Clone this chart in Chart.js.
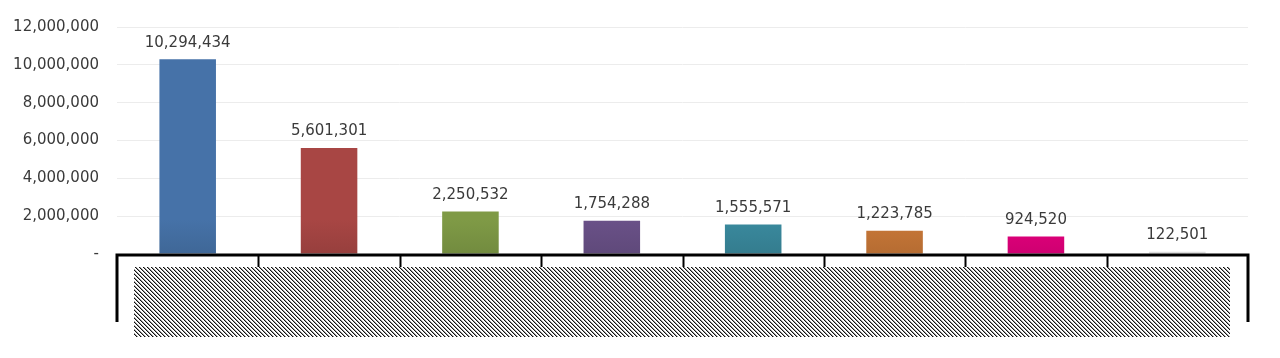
<!DOCTYPE html>
<html>
<head>
<meta charset="utf-8">
<script src="https://cdn.jsdelivr.net/npm/chart.js@4.4.1/dist/chart.umd.min.js"></script>
<style>
  html, body { margin: 0; padding: 0; background: #fff; }
  #wrap { width: 1280px; height: 358px; }
</style>
</head>
<body>
<div id="wrap"><canvas id="salesChart" width="1280" height="358"></canvas></div>
<script>
// Chart data (category names are hidden in the original, shown as a hatched block)
const categories = ["", "", "", "", "", "", "", ""];
const values = [10294434, 5601301, 2250532, 1754288, 1555571, 1223785, 924520, 122501];
const barColors = ["#4672a8", "#a84644", "#7f9a46", "#6a5188", "#3a8a9e", "#c97838", "#e5007d", "#f4f4f4"];
const yTicks = [0, 2000000, 4000000, 6000000, 8000000, 10000000, 12000000];

const FONT = "'DejaVu Sans', sans-serif";
const fmt = (v) => (v === 0 ? "-" : v.toLocaleString("en-US"));

// darker toward the bottom, like the original's shading
function shade(hex, f) {
  const n = parseInt(hex.slice(1), 16);
  const r = Math.round(((n >> 16) & 255) * f);
  const g = Math.round(((n >> 8) & 255) * f);
  const b = Math.round((n & 255) * f);
  return `rgb(${r},${g},${b})`;
}

// Value labels above bars
const valueLabels = {
  id: "valueLabels",
  afterDatasetsDraw(chart) {
    const { ctx } = chart;
    const meta = chart.getDatasetMeta(0);
    ctx.save();
    ctx.font = `15px ${FONT}`;
    ctx.fillStyle = "#3a3a3a";
    ctx.textAlign = "center";
    ctx.textBaseline = "bottom";
    meta.data.forEach((bar, i) => {
      ctx.fillText(fmt(values[i]), bar.x, bar.y - 9);
    });
    ctx.restore();
  },
};

// Category axis: thick base line, boundary ticks and the hatched label block
const categoryAxis = {
  id: "categoryAxis",
  afterDraw(chart) {
    const { ctx, chartArea } = chart;
    const x = chart.scales.x;
    const n = categories.length;
    const step = (x.right - x.left) / n;
    const base = chartArea.bottom + 1;

    // hatch pattern
    const tile = document.createElement("canvas");
    tile.width = 4;
    tile.height = 4;
    const tc = tile.getContext("2d");
    tc.fillStyle = "#fff";
    tc.fillRect(0, 0, 4, 4);
    for (let k = 0; k < 4; k++) {
      tc.fillStyle = "#111";
      tc.fillRect(k, k, 1, 1);
      tc.fillStyle = "#9a9a9a";
      tc.fillRect((k + 1) % 4, k, 1, 1);
    }
    ctx.save();
    ctx.fillStyle = ctx.createPattern(tile, "repeat");
    ctx.fillRect(x.left + 17, base + 12, (x.right - x.left) - 35, 70);

    ctx.strokeStyle = "#000";
    ctx.lineWidth = 2;
    for (let i = 1; i < n; i++) {
      const px = Math.round(x.left + i * step) + 0.5;
      ctx.beginPath();
      ctx.moveTo(px, base);
      ctx.lineTo(px, base + 12);
      ctx.stroke();
    }
    ctx.lineWidth = 3;
    ctx.beginPath();
    ctx.moveTo(x.left, base + 67);
    ctx.lineTo(x.left, base);
    ctx.lineTo(x.right, base);
    ctx.lineTo(x.right, base + 67);
    ctx.stroke();
    ctx.restore();
  },
};

const ctx = document.getElementById("salesChart").getContext("2d");
const chart = new Chart(ctx, {
  type: "bar",
  data: {
    labels: categories,
    datasets: [
      {
        data: values,
        backgroundColor: (c) => {
          const area = c.chart.chartArea;
          const col = barColors[c.dataIndex];
          if (!area) return col;
          const g = c.chart.ctx.createLinearGradient(0, area.top, 0, area.bottom);
          g.addColorStop(0, col);
          g.addColorStop(0.85, col);
          g.addColorStop(1, shade(col, 0.9));
          return g;
        },
        barPercentage: 0.4,
        categoryPercentage: 1,
      },
    ],
  },
  options: {
    responsive: false,
    animation: false,
    layout: { padding: { top: 26, right: 32, bottom: 0, left: 0 } },
    plugins: {
      legend: { display: false },
      tooltip: { enabled: false },
    },
    scales: {
      x: {
        grid: { display: false },
        border: { display: false },
        ticks: { display: false },
        afterFit: (scale) => { scale.height = 104; },
      },
      y: {
        min: 0,
        max: yTicks[yTicks.length - 1],
        afterBuildTicks: (scale) => { scale.ticks = yTicks.map((v) => ({ value: v })); },
        grid: { color: "#ececec", lineWidth: 1, drawTicks: false },
        border: { display: false },
        ticks: {
          padding: 18,
          color: "#3a3a3a",
          font: { family: FONT, size: 15 },
          callback: (v) => fmt(v),
        },
        afterFit: (scale) => { scale.width = 117; },
      },
    },
  },
  plugins: [valueLabels, categoryAxis],
});
</script>
</body>
</html>
